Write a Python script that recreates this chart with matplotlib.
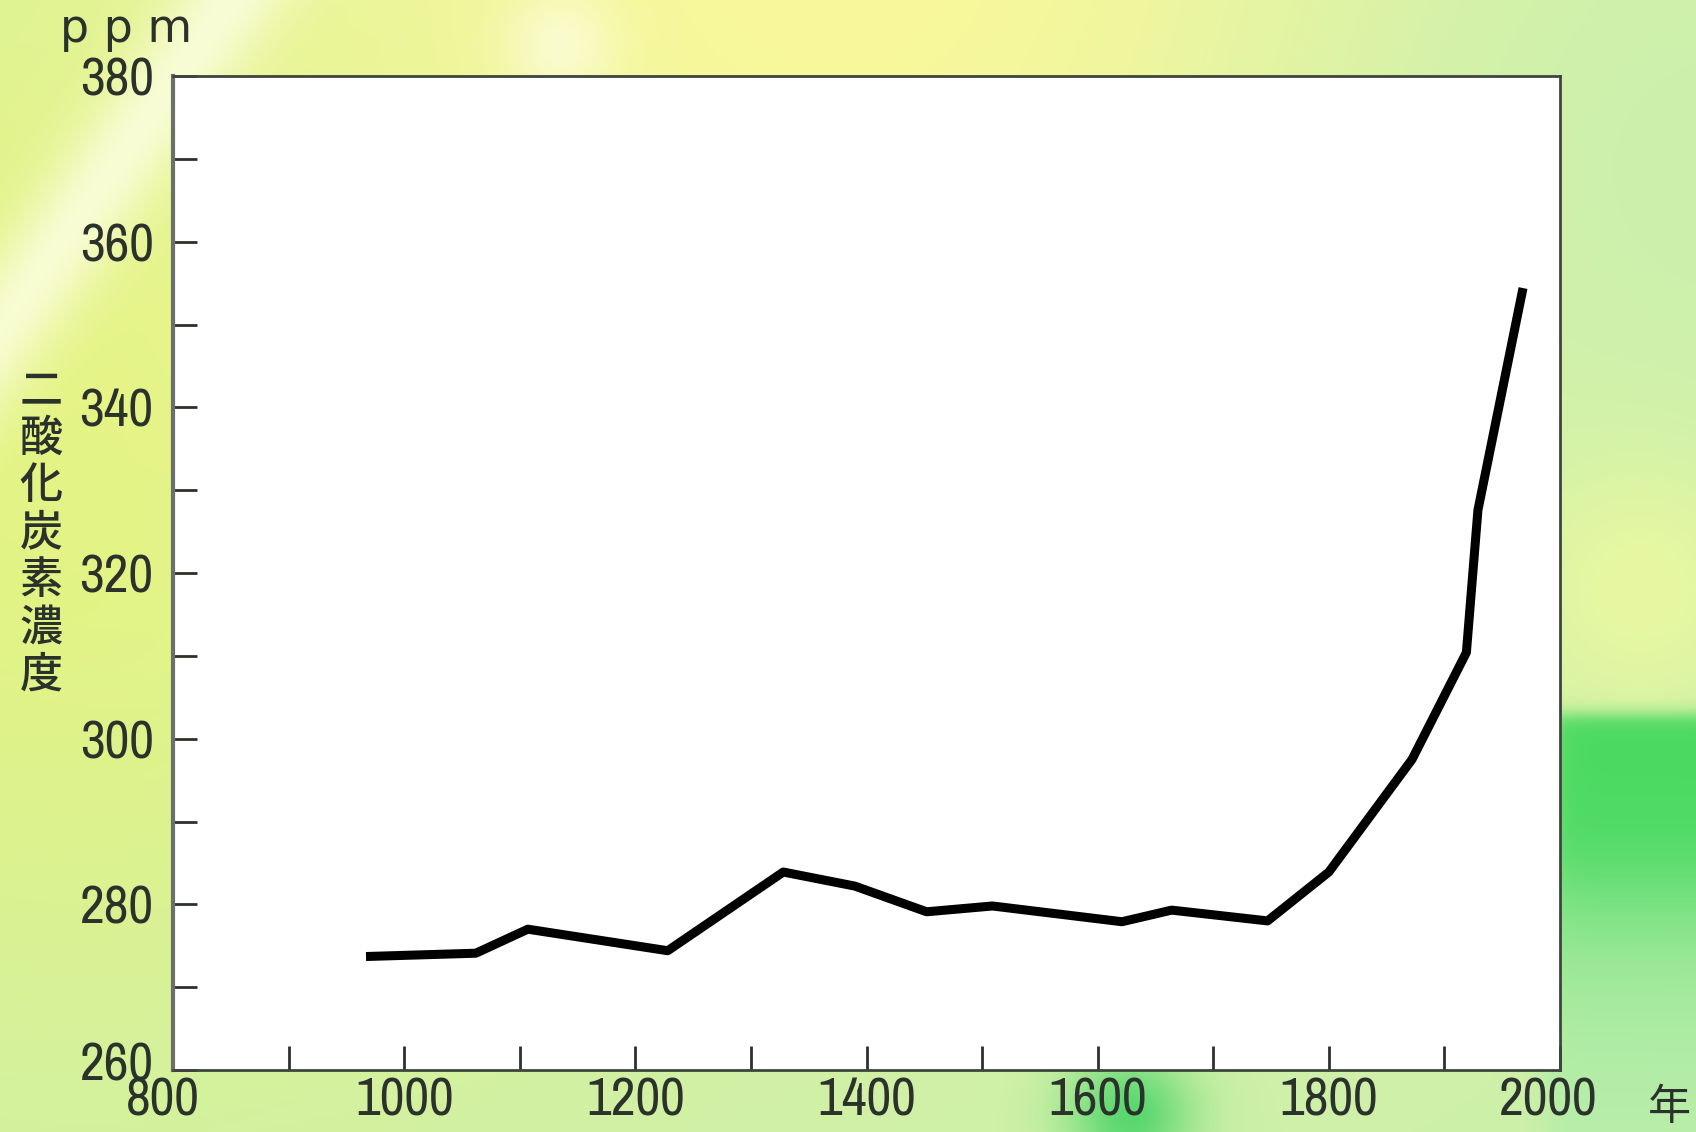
import numpy as np
import matplotlib.pyplot as plt
import matplotlib.transforms as mtransforms
from matplotlib import font_manager
from matplotlib.ticker import MultipleLocator

# データ
years = [967, 1062, 1107, 1228, 1328, 1390, 1452, 1509, 1621, 1664, 1747, 1800, 1872, 1919, 1929, 1968]
ppm = [273.7, 274.1, 277.0, 274.4, 283.9, 282.2, 279.1, 279.8, 277.9, 279.3, 278.0, 283.9, 297.5, 310.4, 327.6, 354.4]
x_ticks = [800, 1000, 1200, 1400, 1600, 1800, 2000]
y_ticks = [260, 280, 300, 320, 340, 360, 380]
ylabel_chars = ["二", "酸", "化", "炭", "素", "濃", "度"]

TEXT = "#2b312b"
JP_FONT = ["Noto Sans CJK JP", "DejaVu Sans"]

# 細身の数字フォントがあれば使う
installed = {f.name for f in font_manager.fontManager.ttflist}
narrow = [n for n in sorted(installed) if "Narrow" in n or "Condensed" in n]
NUM_FONT = (narrow[:1] if narrow else ["Liberation Sans"]) + ["DejaVu Sans"]
NUM_SIZE = 39 if narrow else 33

W, H = 1696, 1132
fig = plt.figure(figsize=(W / 100, H / 100), dpi=100)

# 背景のグラデーション
yy, xx = np.mgrid[0:H, 0:W].astype(float)


def blob(cx, cy, r):
    return np.exp(-((xx - cx) ** 2 + (yy - cy) ** 2) / (2 * r ** 2))


def sig(v):
    return 1 / (1 + np.exp(-v))


def mix(img, color, w):
    c = np.array(color) / 255
    w = np.clip(w, 0, 1)[..., None]
    return img * (1 - w) + c * w


bg = np.empty((H, W, 3))
bg[:] = np.array([205, 240, 170]) / 255
bg = mix(bg, (225, 243, 130), blob(40, 450, 450))
bg = mix(bg, (250, 248, 155), blob(850, -80, 480))
streak = (xx * 330 + yy * 230 - 230 * 330) / np.hypot(330, 230)
bg = mix(bg, (255, 255, 235), np.exp(-streak ** 2 / (2 * 35 ** 2)) * sig((600 - yy) / 60) * 0.75)
bg = mix(bg, (255, 255, 240), blob(560, 45, 40) * 0.6)
bg = mix(bg, (200, 240, 175), blob(1650, 150, 250) * 0.7)
bg = mix(bg, (232, 248, 160), blob(1640, 590, 90))
band = sig((yy - 714) / 5) * np.exp(-np.maximum(yy - 815, 0) ** 2 / (2 * 120 ** 2)) * sig((xx - 1545) / 8)
bg = mix(bg, (60, 215, 90), band * 0.9)
bg = mix(bg, (165, 235, 170), sig((yy - 900) / 40) * sig((xx - 1545) / 8) * 0.5)
bg = mix(bg, (90, 215, 110), blob(1130, 1115, 45))

bg_ax = fig.add_axes([0, 0, 1, 1], zorder=0)
bg_ax.imshow(bg, aspect="auto", extent=[0, 1, 0, 1], origin="upper")
bg_ax.axis("off")

# メインのグラフ
ax = fig.add_axes([173 / W, 62 / H, 1387 / W, 994 / H], zorder=1)
ax.set_facecolor("white")
ax.plot(years, ppm, color="black", linewidth=6.5, solid_joinstyle="round", solid_capstyle="butt")

ax.set_xlim(800, 2000)
ax.set_ylim(260, 380)
ax.set_xticks(x_ticks)
ax.set_yticks(y_ticks)
ax.xaxis.set_minor_locator(MultipleLocator(100))
ax.yaxis.set_minor_locator(MultipleLocator(10))
ax.tick_params(which="both", direction="in", length=17, width=2, color=TEXT,
               top=False, right=False)
ax.tick_params(axis="y", pad=14)
ax.tick_params(axis="x", pad=5)

for lbl in ax.get_xticklabels() + ax.get_yticklabels():
    lbl.set_fontfamily(NUM_FONT)
    lbl.set_fontsize(NUM_SIZE)
    lbl.set_color(TEXT)

# 端のラベルを少しずらす (参照画像に合わせる)
def nudge(lbl, dx, dy):
    lbl.set_transform(lbl.get_transform() +
                      mtransforms.ScaledTranslation(dx / 100, dy / 100, fig.dpi_scale_trans))

xlabels = ax.get_xticklabels()
nudge(xlabels[0], -10, 0)
nudge(xlabels[-1], -12, 0)
nudge(ax.get_yticklabels()[0], 0, 9)

for side in ["left", "bottom", "top", "right"]:
    ax.spines[side].set_color("#3d453d")
    ax.spines[side].set_linewidth(2)
ax.spines["left"].set_color("#6a716a")
ax.spines["left"].set_linewidth(3)

# 単位・軸ラベル
fig.text(126 / W, 1 - 30 / H, "p p m", family=["DejaVu Sans"], fontsize=33,
         color=TEXT, ha="center", va="center")
fig.text(41 / W, 1 - 533 / H, "\n".join(ylabel_chars), family=JP_FONT, fontsize=31,
         fontweight="medium", color=TEXT, ha="center", va="center", linespacing=1.13)
fig.text(1669 / W, 1 - 1108 / H, "年", family=JP_FONT, fontsize=31,
         color=TEXT, ha="center", va="center")

fig.savefig("out.png", dpi=100)
